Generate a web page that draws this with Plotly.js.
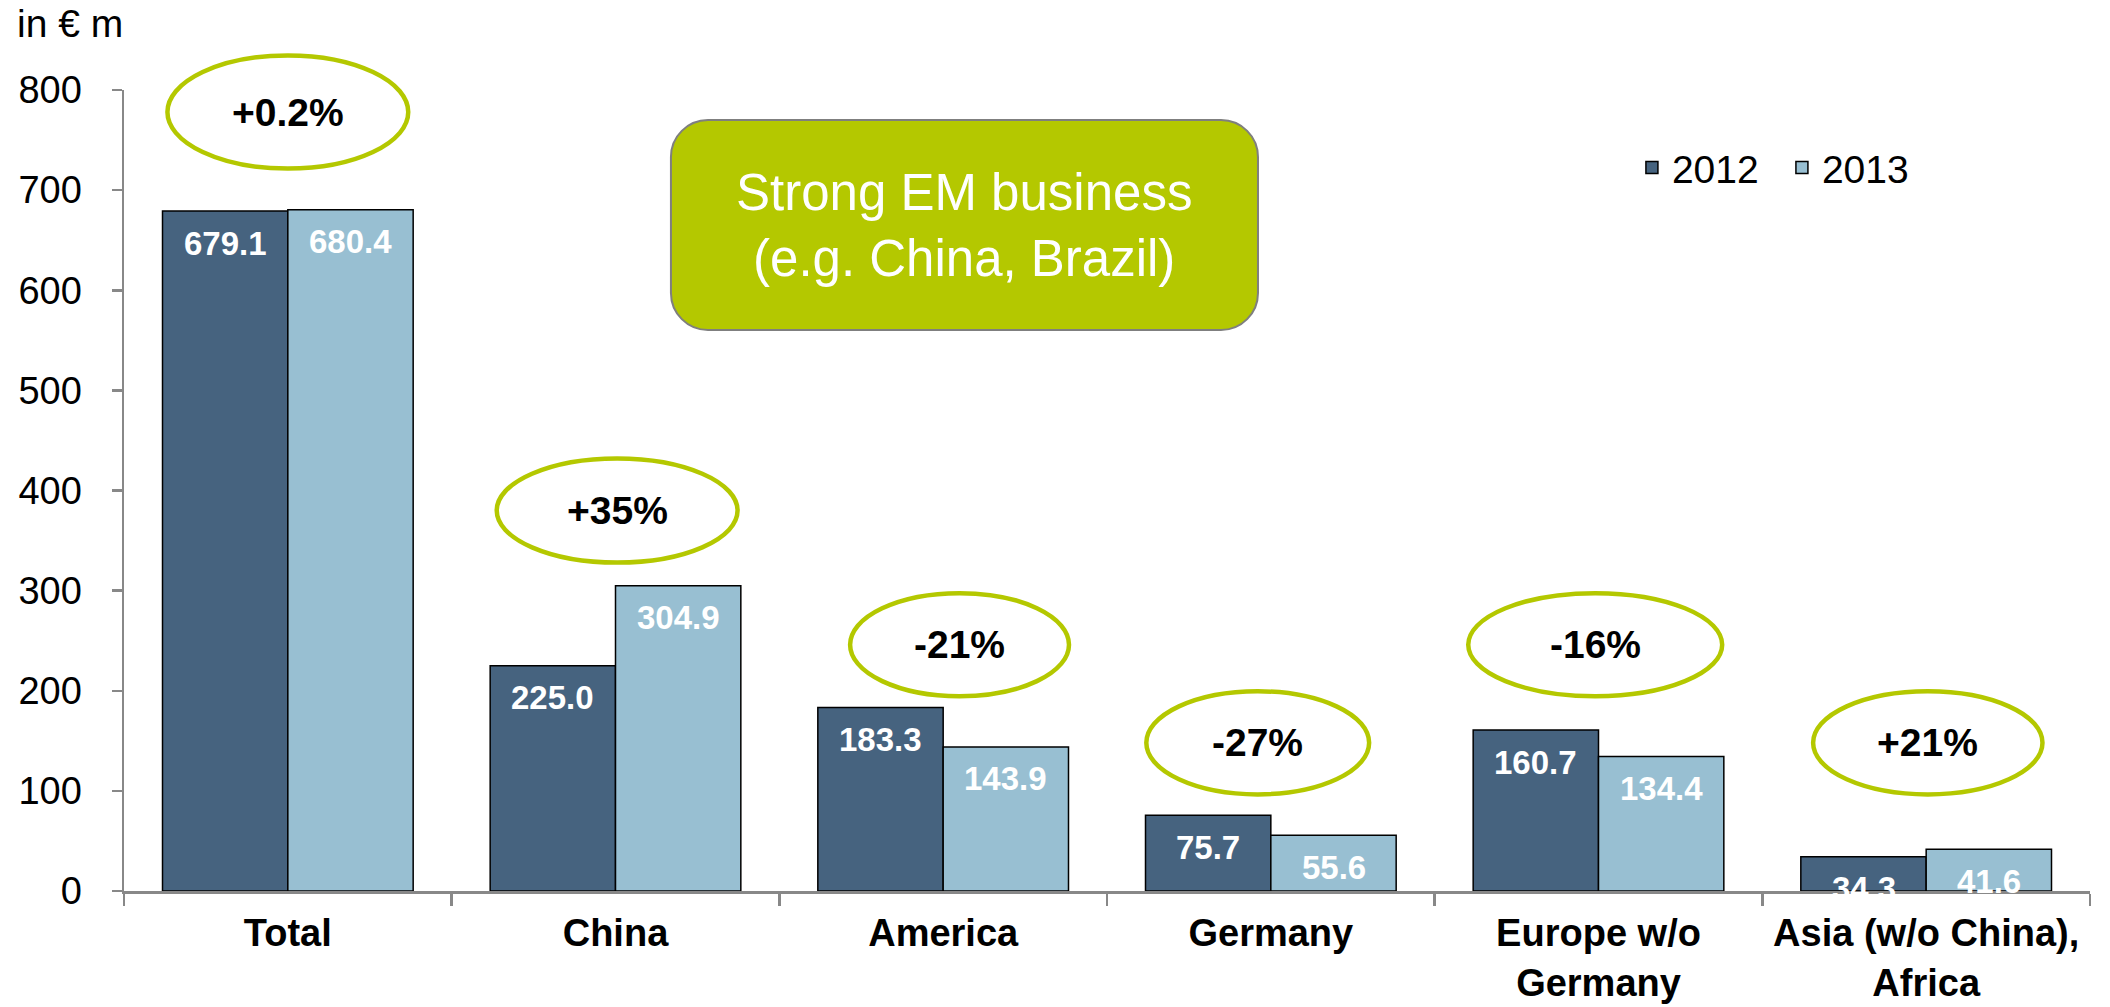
<!DOCTYPE html>
<html><head><meta charset="utf-8">
<script src="https://cdn.plot.ly/plotly-3.0.1.min.js"></script>
<style>html,body{margin:0;padding:0;background:#fff;}#chart{width:2110px;height:1007px;}</style>
</head><body><div id="chart"></div>
<script>
// ---- data ----
const categories = ['Total', 'China', 'America', 'Germany', 'Europe w/o<br>Germany', 'Asia (w/o China),<br>Africa'];
const seriesNames = ['2012', '2013'];
const values2012 = [679.1, 225.0, 183.3, 75.7, 160.7, 34.3];
const values2013 = [680.4, 304.9, 143.9, 55.6, 134.4, 41.6];
const labels2012 = ['679.1', '225.0', '183.3', '75.7', '160.7', '34.3'];
const labels2013 = ['680.4', '304.9', '143.9', '55.6', '134.4', '41.6'];
const changeLabels = ['+0.2%', '+35%', '-21%', '-27%', '-16%', '+21%'];
const yTickValues = [0, 100, 200, 300, 400, 500, 600, 700, 800];
const unitLabel = 'in € m';
const calloutText = 'Strong EM business<br>(e.g. China, Brazil)';

// ---- styling / decoration geometry ----
const FONT = 'Liberation Sans, Arial, sans-serif';
const colors = ['#46637F', '#98BFD2'];
const green = '#B4C800';
const axisGray = '#888888';
const BARGAP = 0.235;
const YMAX = 800;
// oval decorations: offset from category centre (category units), centre level (axis units), width (category units), height (axis units)
const ovals = [
  {dx: 0.0,   lvl: 778, w: 0.735, h: 113},
  {dx: 0.005, lvl: 380, w: 0.735, h: 104},
  {dx: 0.05,  lvl: 246, w: 0.668, h: 103},
  {dx: -0.04, lvl: 148, w: 0.680, h: 103},
  {dx: -0.01, lvl: 246, w: 0.775, h: 103},
  {dx: 0.005, lvl: 148, w: 0.700, h: 103}
];

const traces = [
  {type: 'bar', name: seriesNames[0], x: categories, y: values2012,
   marker: {color: colors[0], line: {color: '#000', width: 1.5}}, hoverinfo: 'none'},
  {type: 'bar', name: seriesNames[1], x: categories, y: values2013,
   marker: {color: colors[1], line: {color: '#000', width: 1.5}}, hoverinfo: 'none'}
];

const shapes = [];
const annotations = [];
const off = (1 - BARGAP) / 4;

categories.forEach((c, i) => {
  annotations.push({xref: 'x', yref: 'y', x: i - off, y: values2012[i], text: labels2012[i],
    showarrow: false, yanchor: 'middle', yshift: -32,
    font: {family: FONT, size: 33, color: '#fff', weight: 'bold'}});
  annotations.push({xref: 'x', yref: 'y', x: i + off, y: values2013[i], text: labels2013[i],
    showarrow: false, yanchor: 'middle', yshift: -32,
    font: {family: FONT, size: 33, color: '#fff', weight: 'bold'}});
  const o = ovals[i];
  const cx = i + o.dx;
  shapes.push({type: 'circle', xref: 'x', yref: 'paper',
    x0: cx - o.w / 2, x1: cx + o.w / 2,
    y0: (o.lvl - o.h / 2) / YMAX, y1: (o.lvl + o.h / 2) / YMAX,
    line: {color: green, width: 4.5}, fillcolor: 'rgba(255,255,255,0)'});
  annotations.push({xref: 'x', yref: 'paper', x: cx, y: o.lvl / YMAX, text: changeLabels[i],
    showarrow: false, xanchor: 'center', yanchor: 'middle',
    font: {family: FONT, size: 39, color: '#000', weight: 'bold'}});
});

// rounded callout box (paper coords)
const bx0 = 0.2782, bx1 = 0.5768, by0 = 0.7004, by1 = 0.9625;
const rx = 37 / 1966, ry = 37 / 801, k = 0.4477;
const f = v => v.toFixed(5);
const boxPath =
  `M${f(bx0 + rx)},${f(by1)} L${f(bx1 - rx)},${f(by1)} ` +
  `C${f(bx1 - rx * k)},${f(by1)} ${f(bx1)},${f(by1 - ry * k)} ${f(bx1)},${f(by1 - ry)} ` +
  `L${f(bx1)},${f(by0 + ry)} ` +
  `C${f(bx1)},${f(by0 + ry * k)} ${f(bx1 - rx * k)},${f(by0)} ${f(bx1 - rx)},${f(by0)} ` +
  `L${f(bx0 + rx)},${f(by0)} ` +
  `C${f(bx0 + rx * k)},${f(by0)} ${f(bx0)},${f(by0 + ry * k)} ${f(bx0)},${f(by0 + ry)} ` +
  `L${f(bx0)},${f(by1 - ry)} ` +
  `C${f(bx0)},${f(by1 - ry * k)} ${f(bx0 + rx * k)},${f(by1)} ${f(bx0 + rx)},${f(by1)} Z`;
shapes.push({type: 'path', xref: 'paper', yref: 'paper', path: boxPath,
  fillcolor: green, line: {color: '#7F7F7F', width: 2}});
annotations.push({xref: 'paper', yref: 'paper', x: (bx0 + bx1) / 2, y: (by0 + by1) / 2,
  text: calloutText, showarrow: false, xanchor: 'center', yanchor: 'middle',
  font: {family: FONT, size: 51, color: '#fff'}});

annotations.push({xref: 'paper', yref: 'paper', x: -0.0554, y: 1.083, text: unitLabel,
  showarrow: false, xanchor: 'left', yanchor: 'middle',
  font: {family: FONT, size: 39, color: '#000'}});

const layout = {
  width: 2110, height: 1007,
  margin: {l: 124, r: 20, t: 90, b: 116, pad: 0},
  paper_bgcolor: '#fff', plot_bgcolor: '#fff',
  barmode: 'group', bargap: BARGAP, bargroupgap: 0,
  font: {family: FONT, color: '#000'},
  xaxis: {type: 'category', showline: true, linecolor: axisGray, linewidth: 2.5,
    ticks: 'outside', tickson: 'boundaries', ticklen: 12, tickwidth: 2.5, tickcolor: axisGray,
    showgrid: false, zeroline: false, ticklabelstandoff: 7,
    tickfont: {family: FONT, size: 38, color: '#000', weight: 'bold'}},
  yaxis: {range: [0, YMAX], showline: true, linecolor: axisGray, linewidth: 2.5,
    ticks: 'outside', ticklen: 10, tickwidth: 2.5, tickcolor: axisGray,
    tickmode: 'array', tickvals: yTickValues, ticktext: yTickValues.map(String),
    showgrid: false, zeroline: false, ticklabelstandoff: 22,
    tickfont: {family: FONT, size: 38, color: '#000'}},
  showlegend: true,
  legend: {orientation: 'h', x: 0.767, y: 0.903, xanchor: 'left', yanchor: 'middle',
    entrywidth: 105, bgcolor: 'rgba(0,0,0,0)', font: {family: FONT, size: 39, color: '#000'}},
  shapes: shapes,
  annotations: annotations
};

Plotly.newPlot('chart', traces, layout, {staticPlot: true, displayModeBar: false});
</script></body></html>
